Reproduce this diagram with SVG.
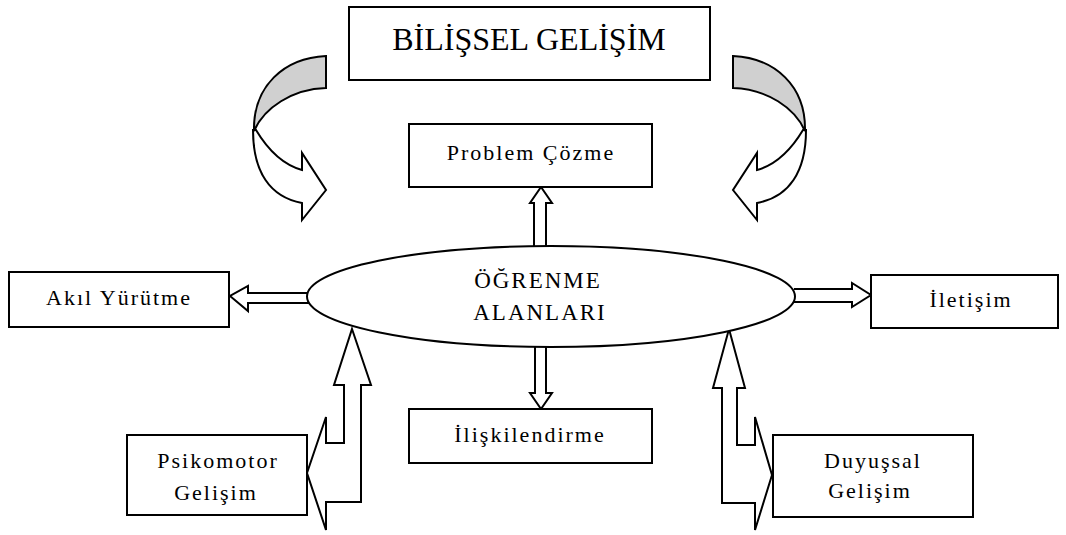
<svg xmlns="http://www.w3.org/2000/svg" width="1066" height="535" viewBox="0 0 1066 535">
<style>
.box{fill:#fff;stroke:#000;stroke-width:2}
.lbl{font-family:"Liberation Serif","Times New Roman",serif;font-size:22px;letter-spacing:2px;text-anchor:middle;fill:#000}
.big{font-family:"Liberation Serif","Times New Roman",serif;font-size:32px;text-anchor:middle;fill:#000}
.ell{font-family:"Liberation Serif","Times New Roman",serif;font-size:23px;letter-spacing:2px;text-anchor:middle;fill:#000}
.arr{fill:#fff;stroke:#000;stroke-width:2;stroke-linejoin:miter}
.band{fill:#d0d0d0;stroke:#000;stroke-width:2}
</style>
<rect width="1066" height="535" fill="#fff"/>
<g id="connectors">
  <g id="curve-left">
    <path class="arr" d="M256,130 C268,150 284,165 302,170 L302,153 L326,190 L302,220 L302,203 C270,197 253,172 253,130 Z"/>
    <path class="band" d="M326,56 C284,58 253,86 254,131 C264,108 292,89 326,88 Z"/>
  </g>
  <g id="curve-right" transform="translate(1059,0) scale(-1,1)">
    <path class="arr" d="M256,130 C268,150 284,165 302,170 L302,153 L326,190 L302,220 L302,203 C270,197 253,172 253,130 Z"/>
    <path class="band" d="M326,56 C284,58 253,86 254,131 C264,108 292,89 326,88 Z"/>
  </g>
  <path id="to-problem" class="arr" d="M534,249 L534,203 L530,203 L541,187 L552,203 L546,203 L546,249"/>
  <path id="to-iliski" class="arr" d="M535,345 L535,393 L530,393 L541,409 L552,393 L546,393 L546,345"/>
  <path id="to-akil" class="arr" d="M309,293 L248,293 L248,286 L230,296 L248,311 L248,303 L309,303"/>
  <path id="to-iletisim" class="arr" d="M794,289 L852,289 L852,283 L871,295 L852,307 L852,302 L794,302"/>
  <path id="psikomotor-arrow" class="arr" d="M352,329 L371,385 L361,385 L361,502 L326,502 L326,530 L307,473 L326,417 L326,443 L344,443 L344,385 L334,385 Z"/>
  <path id="duyussal-arrow" class="arr" d="M729,329 L745,388 L737,388 L737,445 L755,445 L755,417 L772,475 L755,530 L755,503 L722,503 L722,388 L713,388 Z"/>
</g>
<g id="bilissel">
  <rect class="box" x="349" y="7" width="361" height="73"/>
  <text class="big" x="529" y="50">BİLİŞSEL GELİŞİM</text>
</g>
<g id="ogrenme">
  <ellipse cx="551" cy="296.5" rx="244" ry="50.5" fill="#fff" stroke="#000" stroke-width="2"/>
  <text class="ell" x="538" y="288">ÖĞRENME</text>
  <text class="ell" x="540" y="320">ALANLARI</text>
</g>
<g id="problem">
  <rect class="box" x="409" y="124" width="243" height="63"/>
  <text class="lbl" x="531" y="160">Problem Çözme</text>
</g>
<g id="akil">
  <rect class="box" x="9" y="272" width="220" height="55"/>
  <text class="lbl" x="119" y="305">Akıl Yürütme</text>
</g>
<g id="iletisim">
  <rect class="box" x="871" y="275" width="187" height="53"/>
  <text class="lbl" x="971" y="307">İletişim</text>
</g>
<g id="iliski">
  <rect class="box" x="409" y="409" width="243" height="54"/>
  <text class="lbl" x="530" y="442">İlişkilendirme</text>
</g>
<g id="psikomotor">
  <rect class="box" x="127" y="435" width="180" height="80"/>
  <text class="lbl" x="218" y="468">Psikomotor</text>
  <text class="lbl" x="216" y="500">Gelişim</text>
</g>
<g id="duyussal">
  <rect class="box" x="773" y="435" width="200" height="82"/>
  <text class="lbl" x="873" y="468">Duyuşsal</text>
  <text class="lbl" x="870" y="498">Gelişim</text>
</g>
</svg>
